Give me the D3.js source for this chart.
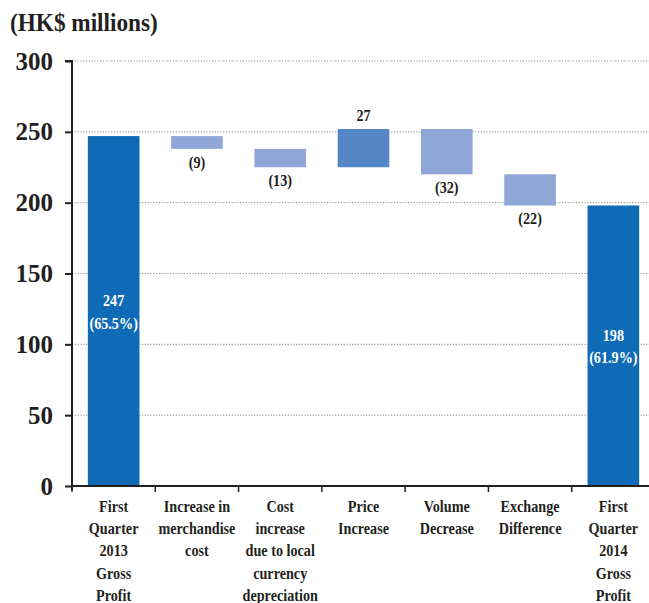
<!DOCTYPE html>
<html><head><meta charset="utf-8">
<script src="https://cdn.jsdelivr.net/npm/d3@7"></script>
<style>
body{margin:0;background:#fff;}
</style></head>
<body><svg id="c" width="649" height="603"></svg>
<script>
const categories = [
  ["First","Quarter","2013","Gross","Profit"],
  ["Increase in","merchandise","cost"],
  ["Cost","increase","due to local","currency","depreciation"],
  ["Price","Increase"],
  ["Volume","Decrease"],
  ["Exchange","Difference"],
  ["First","Quarter","2014","Gross","Profit"]
];
const values = [247, -9, -13, 27, -32, -22, 198];
const kinds = ["total","delta","delta","delta","delta","delta","total"];
const valueLabels = [["247","(65.5%)"],["(9)"],["(13)"],["27"],["(32)"],["(22)"],["198","(61.9%)"]];
const yTicks = [0,50,100,150,200,250,300];
const title = "(HK$ millions)";

const colors = {total:"#0F6BB5", up:"#5587C6", down:"#8EA7D7"};
const FONT = "'Liberation Serif', 'Times New Roman', serif";
const SX = 0.86;

const svg = d3.select("#c").style("font-family",FONT).style("font-weight","bold");
const x0 = 72, x1 = 655, yTop = 61, yBot = 486;
const x = d3.scaleBand().domain(d3.range(categories.length)).range([x0, x1]).paddingInner(0.38).paddingOuter(0.19);
const y = d3.scaleLinear().domain([0,300]).range([yBot, yTop]);

let run = 0;
const bars = values.map((v,i)=>{
  let lo, hi;
  if (kinds[i]==="total"){ lo=0; hi=v; run=v; }
  else { const s=run; run=run+v; lo=Math.min(s,run); hi=Math.max(s,run); }
  return {i, v, lo, hi, kind: kinds[i]==="total" ? "total" : (v>=0?"up":"down")};
});

function txt(sel){ return sel.style("font-family",FONT).style("font-weight","bold"); }
// condensed text centred at cx
function ctext(cx, size, fill){
  return txt(svg.append("g").attr("transform",`translate(${cx},0) scale(${SX},1)`).append("text"))
    .attr("text-anchor","middle").attr("font-size",size).attr("fill",fill);
}

txt(svg.append("g").attr("transform","translate(10,0) scale(0.93,1)").append("text")
  .attr("x",0).attr("y",31).attr("font-size",25).attr("fill","#231f20")).text(title);

svg.append("g").selectAll("line").data(yTicks.filter(d=>d>0)).join("line")
  .attr("x1",x0).attr("x2",649).attr("y1",d=>y(d)).attr("y2",d=>y(d))
  .attr("stroke","#8a8a8a").attr("stroke-width",1).attr("stroke-dasharray","1.2,1.6");

svg.append("g").selectAll("rect").data(bars).join("rect")
  .attr("x",d=>x(d.i)).attr("width",x.bandwidth())
  .attr("y",d=>y(d.hi)).attr("height",d=>y(d.lo)-y(d.hi))
  .attr("fill",d=>colors[d.kind]);

const ya = svg.append("g").attr("transform",`translate(${x0},0)`)
  .call(d3.axisLeft(y).tickValues(yTicks).tickSize(7).tickPadding(12));
ya.attr("font-family",null);
ya.select(".domain").attr("stroke","#231f20").attr("stroke-width",2).attr("d",`M-7,${yTop}H0V${yBot+4}`);
ya.selectAll(".tick line").attr("stroke","#231f20").attr("stroke-width",2);
txt(ya.selectAll(".tick text").attr("font-size",25).attr("fill","#231f20"));

const xa = svg.append("g");
xa.append("line").attr("x1",x0).attr("x2",649).attr("y1",yBot).attr("y2",yBot).attr("stroke","#231f20").attr("stroke-width",2);
xa.selectAll("line.t").data(d3.range(categories.length)).join("line").attr("class","t")
  .attr("x1",i=>x0+i*(x1-x0)/categories.length).attr("x2",i=>x0+i*(x1-x0)/categories.length)
  .attr("y1",yBot).attr("y2",yBot+6).attr("stroke","#231f20").attr("stroke-width",1.5);

categories.forEach((lines,i)=>{
  const t = ctext(x(i)+x.bandwidth()/2, 16.5, "#231f20");
  lines.forEach((ln,j)=>t.append("tspan").attr("x",0).attr("y",512+j*22.2).text(ln));
});

bars.forEach((d,i)=>{
  const cx = x(i)+x.bandwidth()/2;
  const lab = valueLabels[i];
  if (d.kind==="total"){
    const mid = y(d.hi/2);
    const t = ctext(cx, 16.5, "#fff");
    lab.forEach((ln,j)=>t.append("tspan").attr("x",0).attr("y",mid-5+j*22.5).text(ln));
  } else if (d.kind==="up"){
    ctext(cx, 16.5, "#231f20").attr("y",y(d.hi)-8).text(lab[0]);
  } else {
    ctext(cx, 16.5, "#231f20").attr("y",y(d.lo)+19).text(lab[0]);
  }
});
</script></body></html>
